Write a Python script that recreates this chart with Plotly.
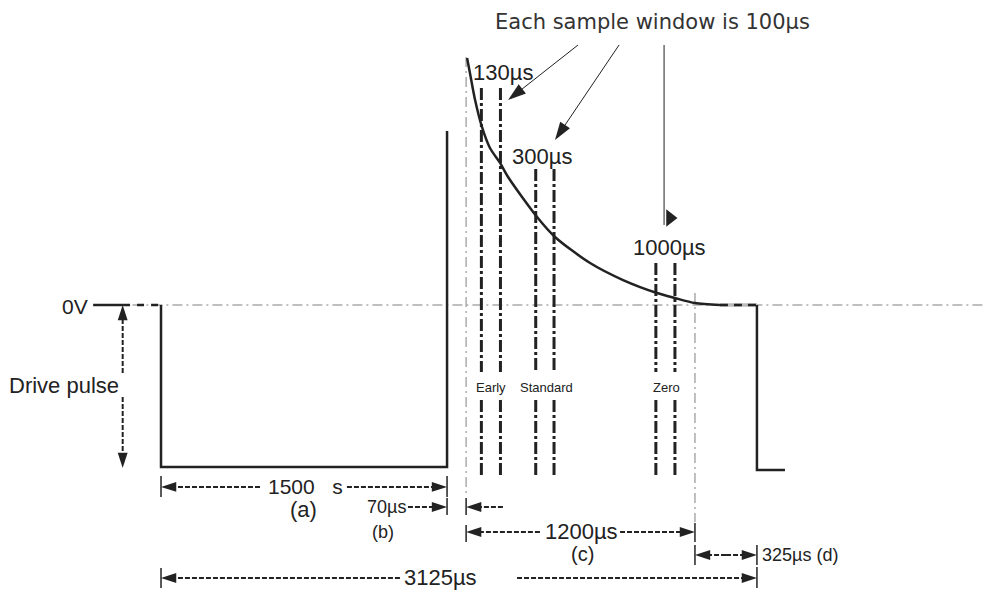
import plotly.graph_objects as go

INK = "#222222"
GREY = "#aaaaaa"
NARROW = "Liberation Sans, Arial, sans-serif"
TOPFONT = "DejaVu Sans, Open Sans, sans-serif"

# ---- data: time in µs, level in units of the drive pulse (0V = 0, pulse = -1)
pulse_t = [0, 0, 1500, 1500]
pulse_v = [0, -1.0, -1.0, 1.074]

leader_t = [-356, -199]          # solid 0V leader
dotted_left_t = [-199, 0]        # dashed black over the 0V line
dotted_right_t = [2931, 3125]

decay_t = [1605, 1620, 1647, 1683, 1725, 1778, 1820, 1972, 2066, 2250, 2423, 2601, 2695, 2800, 2931]
decay_v = [1.525, 1.432, 1.265, 1.099, 0.969, 0.877, 0.790, 0.543, 0.420, 0.259, 0.154, 0.074, 0.043, 0.012, 0.0]

tail_t = [3125, 3125, 3272]
tail_v = [0, -1.019, -1.019]

zero_line_t = [-150, 4316]

ref_lines_t = [1600, 2800]
ref_lines_top = [1.531, 0.074]
ref_lines_bot = [-1.16, -1.34]

window_names = ["Early", "Standard", "Zero"]
window_starts = [1680, 1965, 2595]
window_ends = [1780, 2061, 2695]
window_tops = [1.34, 0.84, 0.26]
window_bottom = -1.068
window_gap = [-0.414, -0.586]
window_label_t = [1731, 2019, 2653]

delay_labels = ["130µs", "300µs", "1000µs"]
delay_label_t = [1793, 1998, 2664]
delay_label_v = [1.438, 0.914, 0.358]

# dimension arrows: (tail t, tip t, level)
dim_arrows = [
    (519, 0, -1.123), (975, 1500, -1.123),
    (1295, 1500, -1.247),
    (1793, 1600, -1.247),
    (1987, 1600, -1.401), (2407, 2800, -1.401),
    (2963, 2800, -1.543), (2963, 3125, -1.543),
    (1253, 0, -1.685), (1867, 3125, -1.685),
]
# end ticks: (t, v0, v1)
dim_ticks = [
    (0, -1.056, -1.185), (1500, -1.056, -1.185), (1500, -1.191, -1.296),
    (1600, -1.191, -1.296), (1600, -1.358, -1.463),
    (2800, -1.346, -1.463), (2800, -1.481, -1.605),
    (3125, -1.481, -1.605), (3125, -1.617, -1.747),
    (0, -1.623, -1.747),
]
drive_t = -201
drive_arrows = [(-0.42, 0.0), (-0.568, -1.006)]

# callout arrows from the header text: (tail t, tail v, tip t, tip v)
callouts = [(2187, 1.605, 1820, 1.265), (2402, 1.605, 2066, 1.019)]
callout3_t = 2638
callout3_v = [1.605, 0.494]
callout3_head = (2669, 0.537)

dim_texts = [
    ("1500\u00a0\u00a0\u00a0s", 760, -1.123, 21, "center"),
    ("(a)", 745, -1.265, 22, "center"),
    ("70µs", 1185, -1.247, 18, "center"),
    ("(b)", 1164, -1.40, 18, "center"),
    ("1200µs", 2203, -1.401, 22, "center"),
    ("(c)", 2208, -1.535, 20, "center"),
    ("325µs (d)", 3141, -1.543, 18, "left"),
    ("3125µs", 1463, -1.685, 22, "center"),
]

fig = go.Figure()

def line(x, y, color=INK, width=2.5, dash="solid"):
    fig.add_trace(go.Scatter(x=x, y=y, mode="lines", hoverinfo="skip",
                             line=dict(color=color, width=width, dash=dash)))

def arrow(x, y, width=2, dash="5px,2px", size=16):
    fig.add_trace(go.Scatter(
        x=x, y=y, mode="lines+markers", hoverinfo="skip",
        line=dict(color=INK, width=width, dash=dash),
        marker=dict(symbol="arrow", size=size, angleref="previous",
                    color=INK, line=dict(width=0))))

# 0V reference line
line(zero_line_t, [0, 0], GREY, 1.5, "10px,4px,2px,4px")
line(dotted_right_t, [0, 0], "#bbbbbb", 3.5)
# reference verticals
for t, a, b in zip(ref_lines_t, ref_lines_top, ref_lines_bot):
    line([t, t], [a, b], GREY, 1.5, "10px,4px,2px,4px")

# waveform
line(leader_t, [0, 0], INK, 2.5)
line(dotted_left_t, [0, 0], INK, 2.5, "7px,7px")
line(pulse_t, pulse_v, INK, 2.5)
fig.add_trace(go.Scatter(x=decay_t, y=decay_v, mode="lines", hoverinfo="skip",
                         line=dict(color=INK, width=2.5, shape="spline", smoothing=0.8)))
line(dotted_right_t, [0, 0], INK, 2.5, "8px,6px")
line(tail_t, tail_v, INK, 2.5)

# sample windows
for s, e, top in zip(window_starts, window_ends, window_tops):
    for t in (s, e):
        line([t, t, None, t, t], [top, window_gap[0], None, window_gap[1], window_bottom],
             INK, 3, "12px,3px,3px,3px")

# dimension arrows and ticks
for tail, tip, v in dim_arrows:
    arrow([tail, tip], [v, v])
for t, a, b in dim_ticks:
    line([t, t], [a, b], INK, 1.5)
for tail, tip in drive_arrows:
    arrow([drive_t, drive_t], [tail, tip])

# callouts
for x0, y0, x1, y1 in callouts:
    arrow([x0, x1], [y0, y1], width=1, dash="solid", size=19)
line([callout3_t, callout3_t], callout3_v, INK, 1)
fig.add_trace(go.Scatter(x=[callout3_head[0]], y=[callout3_head[1]], mode="markers",
                         hoverinfo="skip",
                         marker=dict(symbol="triangle-right", size=15, color=INK,
                                     line=dict(width=0))))

ann = []
def text(s, x, y, size, anchor="center", family=NARROW, color=INK):
    ann.append(dict(text=s, x=x, y=y, xref="x", yref="y", showarrow=False,
                    xanchor=anchor, yanchor="middle",
                    font=dict(family=family, size=size, color=color)))

text("0V", -451, -0.01, 21)
text("Drive pulse", -509, -0.494, 22)
for s, x, y, sz, anc in dim_texts:
    text(s, x, y, sz, anc)
for s, x, y in zip(delay_labels, delay_label_t, delay_label_v):
    text(s, x, y, 22)
for s, x in zip(window_names, window_label_t):
    text(s, x, -0.512, 13)
text("Each sample window is 100µs", 2575, 1.747, 21, family=TOPFONT, color="#333333")

fig.update_layout(
    width=984, height=592,
    margin=dict(l=0, r=0, t=0, b=0),
    paper_bgcolor="white", plot_bgcolor="white",
    showlegend=False,
    xaxis=dict(range=[-844.3, 4315.7], visible=False, fixedrange=True),
    yaxis=dict(range=[-1.7716, 1.8827], visible=False, fixedrange=True),
    annotations=ann,
)

fig.write_html(
    "out.html",
    config={"displayModeBar": False},
    post_script="document.body.style.margin='0';document.body.style.padding='0';"
                "document.body.style.overflow='hidden';",
)
